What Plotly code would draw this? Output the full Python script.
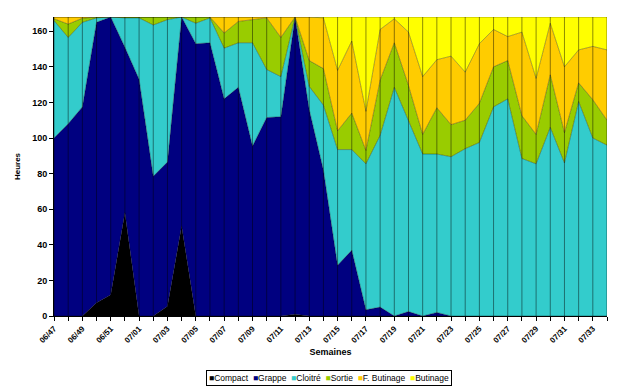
import plotly.graph_objects as go

weeks = ["06/47", "06/48", "06/49", "06/50", "06/51", "06/52"] + ["07/%02d" % w for w in range(1, 35)]

compact = [0, 0, 0, 7.5, 12, 58, 0, 0, 5.5, 50.5, 0, 0, 0, 0, 0, 0, 0, 1, 0, 0,
           0, 0, 0, 0, 0, 0, 0, 0, 0, 0, 0, 0, 0, 0, 0, 0, 0, 0, 0, 0]
grappe = [100, 108, 117.5, 157.5, 156, 93, 133, 78.5, 81, 117.5, 153, 153.5, 122, 128.5, 95.5, 111.5, 112, 167, 116, 82,
          28.5, 37, 3.5, 5, 0, 2.5, 0, 2, 0, 0, 0, 0, 0, 0, 0, 0, 0, 0, 0, 0]
cloitre = [66, 48.5, 47.5, 2.5, 0, 16.5, 34.5, 85, 80, 0, 11.5, 14, 28.5, 25, 58, 27, 22.5, 0, 13, 36.5,
           65, 56.5, 82, 96.5, 128.5, 107.5, 91, 89, 89.5, 94, 97.5, 117.5, 122, 88.5, 85.5, 106, 86, 120.5, 100, 96]
sortie = [1, 7.5, 2.3, 0.5, 0, 0.5, 0.5, 4.5, 1.5, 0, 3.5, 0.5, 8.5, 12, 13, 29, 22, 0, 14.5, 20.5,
          10.5, 20.5, 7.5, 31, 25, 19.5, 11, 26, 18, 16, 22, 22.5, 21.5, 24, 16.5, 29.5, 17, 10.5, 21.5, 14]
f_butinage = [1, 4, 0.7, 0, 0, 0, 0, 0, 0, 0, 0, 0, 9, 2.5, 1.5, 0.5, 11.5, 0, 24.5, 28.5,
              34, 40.5, 22, 28.5, 13.5, 30, 32.5, 27, 38.5, 27, 33.5, 21, 13.5, 47, 31.5, 29, 37, 18.5, 30, 39.5]
butinage = [0, 0, 0, 0, 0, 0, 0, 0, 0, 0, 0, 0, 0, 0, 0, 0, 0, 0, 0, 0.5,
            30, 13.5, 53, 7, 1, 8.5, 33.5, 24, 22, 31, 15, 7, 11, 8.5, 34.5, 3.5, 28, 18.5, 16.5, 18.5]

series_names = ["Compact", "Grappe", "Cloitré", "Sortie", "F. Butinage", "Butinage"]
series_values = [compact, grappe, cloitre, sortie, f_butinage, butinage]
colors = ["#000000", "#000080", "#33CCCC", "#99CC00", "#FFCC00", "#FFFF00"]

y_ticks = [0, 20, 40, 60, 80, 100, 120, 140, 160]
y_max = 168

x = list(range(len(weeks)))
FONT = "Liberation Sans, Arial, sans-serif"

fig = go.Figure()
for name, vals, col in zip(series_names, series_values, colors):
    fig.add_trace(go.Scatter(
        x=x, y=vals, name=name, stackgroup="one", mode="lines",
        line=dict(color="rgba(0,0,0,0.55)", width=0.6),
        fillcolor=col, showlegend=False, hoverinfo="skip"))

# drop lines at each week
vx, vy = [], []
for i in x:
    vx += [i, i, None]
    vy += [0, y_max, None]
fig.add_trace(go.Scatter(x=vx, y=vy, mode="lines",
                         line=dict(color="rgba(0,0,0,0.45)", width=1),
                         showlegend=False, hoverinfo="skip"))

legend_text = "&nbsp;&nbsp;".join('<span style="color:%s">■</span>%s' % (c, n) for n, c in zip(series_names, colors))

fig.update_layout(
    width=616, height=383,
    margin=dict(l=44, r=17, t=9, b=75),
    paper_bgcolor="white", plot_bgcolor="white",
    font=dict(family=FONT, size=8, color="black"),
    showlegend=False,
    xaxis=dict(
        range=[0, len(weeks) - 1],
        tickvals=x[::2], ticktext=weeks[::2], tickangle=-45,
        ticks="outside", ticklen=4, tickcolor="black",
        minor=dict(dtick=1, ticks="outside", ticklen=4, tickcolor="black"),
        showline=True, linecolor="black", linewidth=1, showgrid=False, zeroline=False,
        tickfont=dict(family=FONT, size=8, weight="bold"),
        title=dict(text="Semaines", font=dict(family=FONT, size=9, weight="bold"), standoff=4),
    ),
    yaxis=dict(
        range=[0, y_max], tickvals=y_ticks,
        ticks="outside", ticklen=4, tickcolor="black",
        showline=True, linecolor="black", linewidth=1, showgrid=False, zeroline=False,
        tickfont=dict(family=FONT, size=9, weight="bold"),
        title=dict(text="Heures", font=dict(family=FONT, size=8, weight="bold"), standoff=10),
    ),
    annotations=[dict(
        text=legend_text, xref="paper", yref="paper", x=0.497, y=-0.206,
        xanchor="center", yanchor="middle", showarrow=False,
        font=dict(family=FONT, size=8.5, color="black"),
        bordercolor="black", borderwidth=1, borderpad=2, bgcolor="white")],
)

fig.write_html("out.html")
